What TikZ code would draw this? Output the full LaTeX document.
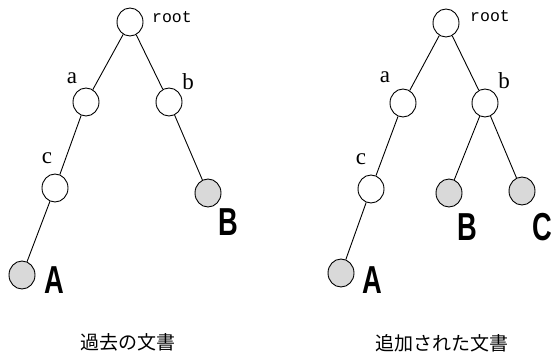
\documentclass[tikz,border=0pt]{standalone}
\usepackage{fontspec}
\usetikzlibrary{shapes.geometric}
\newfontfamily\cjkfont{Noto Sans CJK JP}
\newfontfamily\monofont{Liberation Mono}
\newfontfamily\serfont{Liberation Serif}
\newfontfamily\boldlab[FakeStretch=0.7]{Liberation Sans Bold}
\tikzset{
  tnode/.style={draw, ellipse, line width=0.9pt, minimum width=26pt, minimum height=28pt, inner sep=0pt, fill=white},
  leaf/.style={tnode, fill=gray!30},
  edge/.style={line width=0.9pt},
  rootlab/.style={font=\monofont\fontsize{16.5}{16.5}\selectfont, inner sep=0pt},
  letlab/.style={font=\serfont\fontsize{23}{23}\selectfont, inner sep=0pt},
  doclab/.style={font=\boldlab\fontsize{39}{39}\selectfont, inner sep=0pt},
  caption/.style={font=\cjkfont\fontsize{19}{19}\selectfont, inner sep=0pt}
}
\begin{document}
\begin{tikzpicture}[x=1pt,y=-1pt]
\useasboundingbox (0,0) rectangle (551,356);
% left tree
\node[tnode] (lroot) at (130,22) {};
\node[tnode] (la) at (86,102) {};
\node[tnode] (lb) at (169,102) {};
\node[tnode] (lc) at (55,188) {};
\node[leaf] (lA) at (22,275) {};
\node[leaf] (lB) at (208,193) {};
\draw[edge] (lroot) -- (la);
\draw[edge] (lroot) -- (lb);
\draw[edge] (la) -- (lc);
\draw[edge] (lc) -- (lA);
\draw[edge] (lb) -- (lB);
\node[rootlab] (lrootl) at (172,17) {root};
\node[letlab] (lal) at (72,78) {a};
\node[letlab] (lbl) at (188,82) {b};
\node[letlab] (lcl) at (47,158) {c};
\node[doclab] (lAl) at (54,280) {A};
\node[doclab] (lBl) at (228,222) {B};
\node[caption] (lcap) at (128,342) {過去の文書};
% right tree
\node[tnode] (rroot) at (446,23) {};
\node[tnode] (ra) at (403,103) {};
\node[tnode] (rb) at (485,103) {};
\node[tnode] (rc) at (371,189) {};
\node[leaf] (rA) at (341,273) {};
\node[leaf] (rB) at (449,193) {};
\node[leaf] (rC) at (522,191) {};
\draw[edge] (rroot) -- (ra);
\draw[edge] (rroot) -- (rb);
\draw[edge] (ra) -- (rc);
\draw[edge] (rc) -- (rA);
\draw[edge] (rb) -- (rB);
\draw[edge] (rb) -- (rC);
\node[rootlab] (rrootl) at (490,16) {root};
\node[letlab] (ral) at (385,77) {a};
\node[letlab] (rbl) at (504,81) {b};
\node[letlab] (rcl) at (361,159) {c};
\node[doclab] (rAl) at (372,280) {A};
\node[doclab] (rBl) at (467,227) {B};
\node[doclab] (rCl) at (542,227) {C};
\node[caption] (rcap) at (442,343) {追加された文書};
\end{tikzpicture}
\end{document}
